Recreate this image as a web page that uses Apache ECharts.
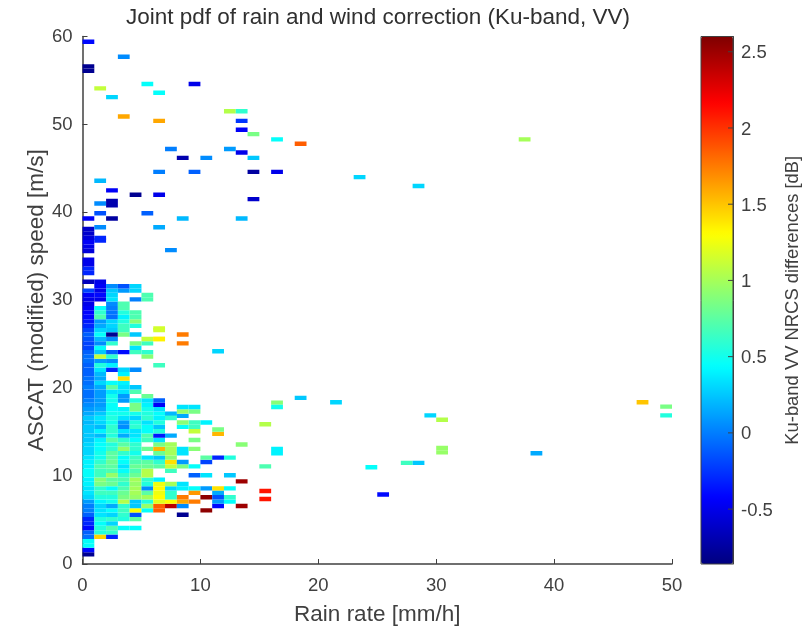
<!DOCTYPE html>
<html><head><meta charset="utf-8">
<style>html,body{margin:0;padding:0;background:#fff}#c{width:805px;height:629px}</style>
<script src="https://cdn.jsdelivr.net/npm/echarts@6/dist/echarts.min.js"></script>
</head><body><div id="c"></div>
<script>
// rain-rate bin starts are the array index; first wind row centre and row step in m/s
const denseWindStart = 1.1;
const denseWindStep = 0.5;
const rainBinWidth = 1;
const windBinHeight = 0.5;
const xTicks = [0,10,20,30,40,50];
const yTicks = [0,10,20,30,40,50,60];
const colorbarTicks = [-0.5,0,0.5,1,1.5,2,2.5];
const diffMin = -0.86, diffMax = 2.6;
const jetColors = ['#00007f','#0000ff','#007fff','#00ffff','#7fff7f','#ffff00','#ff7f00','#ff0000','#7f0000'];
// dense block: one list per wind row (bottom up), one value per rain bin
const denseRows = [
[-.8],[-.4],[.45],[.45],
[-.05,1.45,-.3],
[-.1,.55,.6],
[-.4,.55,.7,.45,.45],
[-.3,.45,.3],
[-.3,.55,.6,.55,.75],
[-.1,.35,.3,.6,-.15],
[0,.35,.45,.65,1.3,.45,1.85],
[0,.3,.15,.6,.25,.95,1.85],
[.1,.4,.5,1.05,.25,.55,1.2],
[.3,.55,.55,.85,.95,1,1.3],
[.35,.65,.65,.8,1,.75,1.25],
[.35,.6,.45,.7,1,.05,1.3],
[.4,.85,.8,.6,.95,.55,1.25],
[.4,.9,.75,.7,1,.6,.4],
[.45,.65,.95,.6,.8,1.05],
[.45,.65,.7,.45,.7,1.05],
[.4,.7,.75,.35,.8,.8,.75],
[.4,.6,.8,.45,.7,.75,.6],
[.35,.5,.75,.45,.65,.35,.25],
[.3,.5,.75,.6,.5,null,.8],
[.3,.45,.6,.95,.6,.8,1.55],
[.3,.45,.55,.75,.6,null,.85],
[.25,.4,.75,.6,.45,.65,.35],
[.25,.2,.55,.15,.35,.7,-.35],
[.25,.4,.6,.35,.35,.45,.55],
[.25,.2,.6,.05,.6,.45,.25],
[.2,.3,.5,.1,.55,.35,.55],
[.25,.35,.55,.35,.3,.6,.4],
[.15,.25,.5,.5,.5,.55,.45],
[.1,.15,.45,.4,.85,.5,.35],
[.05,.1,.45,null,.85,.4,-.45],
[0,.1,.5,.1,.55,.35,-.1],
[-.05,.1,.5,.1,null,.8],
[-.05,.1,.35,.35,.7],
[0,.15,.75,.35,.25],
[-.05,.3,.45,.4],
[-.05,.15,null,1.4],
[-.1,.2,null,.4],
[-.1,.35,-.3,.3,.05],
[-.1,.55,.4,null,null,null,.65],
[-.05,.1,.05],
[-.05,1.1,.6,null,null,.9],
[-.1,.25,-.1,-.4,.65,.6],
[-.2,.45,null,null,.35],
[-.2,.05,.6,null,.85,.65],
[-.15,.2,.05,null,null,1.1,1.3],
[-.1,.45,-.8,.85,.25],
[-.2,.3,.25,.65,null,null,1.15],
[-.3,.15,.3,.65,.55],
[-.35,.1,.3,.55,.9],
[-.4,.7,-.05,.4,.7],
[-.42,.6,-.03,.55,.7],
[-.45,.45,0,.7],
[-.5,null,.05,.7],
[-.5,-.5,.35,null,0,.7],
[-.45,-.4,.3,null,null,.7],
[-.2,-.5,.25,.1,.3],
[null,-.45,.05,-.15,.3],
[-.65,-.5],
[],
[-.3],[-.3],[-.5],[-.5],[],
[-.55],[-.5],[-.45],
[-.55,-.3],
[-.6],[-.6]
];
// isolated cells: [rain bin start, wind centre, difference]
const sparseCells = [
[8,5.6,-.8],[10,6.1,2.55],[7,6.6,2.4],[8,6.6,.05],[11,6.6,-.4],[13,6.6,2.5],
[7,7.1,1.3],[8,7.1,1.6],[9,7.1,1.75],[11,7.1,.1],[12,7.1,.45],[15,7.4,2.1],
[7,7.6,.6],[8,7.6,1.75],[10,7.6,2.55],[11,7.6,-.15],[12,7.6,.6],
[7,8.1,.6],[9,8.1,1.65],[11,8.1,.15],[15,8.3,2.1],
[7,8.6,.3],[8,8.6,.4],[9,8.6,.45],[10,8.6,.1],[11,8.6,1.4],[12,8.6,.45],
[7,9.1,1],[8,9.1,.35],[13,9.4,2.5],
[9,10.1,-.1],[10,10.1,.35],[12,10.1,.25],
[7,10.6,.65],[7,11.1,1.1],[8,11.1,.85],[9,11.1,.45],[15,11.1,.7],
[7,11.6,1.4],[8,11.6,.1],[10,11.6,-.2],
[7,12.1,.9],[10,12.1,.75],[11,12.1,-.3],[12,12.1,.55],
[7,12.6,1],[8,12.6,.35],[16,12.6,.4],
[7,13.1,1],[8,13.1,.35],[16,13.1,.4],[9,13.1,.9],
[13,13.6,.9],[7,13.6,1],[9,14.1,.85],
[7,14.6,.15],[11,14.8,1.55],[9,15.1,1.1],[11,15.3,.85],
[9,15.6,.65],[8,15.6,.45],[15,15.9,1.05],[9,16.1,.65],[10,16.1,.4],
[7,16.85,.65],[8,16.85,.15],[8,17.35,.95],[9,17.35,.85],[8,17.85,.35],[9,17.85,.35],
[16,18.35,.9],[16,17.85,.5],[18,18.9,.25],[21,18.4,.3],
[24,11,.45],[25,7.9,-.4],[27,11.5,.65],[28,11.5,.25],
[29,16.9,.3],[30,16.4,1.05],[30,12.7,.95],[30,13.2,.95],[38,12.6,.15],
[47,18.4,1.5],[49,17.9,.85],[49,16.9,.55],
[7,17.1,.2],[7,16.6,.6],[8,16.1,.9],[11,24.2,.3],
[8,25.1,1.75],[8,26.1,1.75],[6,26.8,1.15],[6,25.6,1.35],
[0,39.3,-.45],[1,39.9,-.15],[2,39.3,-.75],[5,39.9,-.1],[8,39.3,.2],[13,39.3,.2],
[1,38.3,.05],[6,38.3,.15],[7,35.7,.05],[1,36.8,-.3],
[1,41,.05],[2,40.8,-.7],[2,41.3,-.7],[4,42,-.8],[6,42,-.5],[2,42.5,-.45],[1,43.6,.2],[14,41.5,-.6],
[6,44.6,0],[9,44.6,-.1],[14,44.6,-.75],[16,44.6,-.5],[23,44,.3],[28,43,.3],
[8,46.2,-.7],[10,46.2,.05],[14,46.2,.25],[13,46.8,-.5],[7,47.2,0],[12,47.2,.1],
[18,47.8,1.85],[16,48.3,.45],[37,48.3,1],[14,48.9,.85],[13,49.4,-.45],[13,50.4,-.25],
[3,50.9,1.6],[6,50.4,1.6],[12,51.5,1.05],[13,51.5,.6],
[2,53.1,.3],[6,53.6,.45],[1,54.1,1.1],[5,54.6,.45],[9,54.6,-.5],
[0,56.1,-.8],[0,56.6,-.8],[3,57.7,.05],[0,59.4,-.4]
];

const cells = [];
denseRows.forEach((row,k)=>row.forEach((v,i)=>{
  if(v!==null) cells.push([i,denseWindStart+denseWindStep*k,v]);
}));
sparseCells.forEach(c=>cells.push(c));

const ink = '#404040';
const font = '"Liberation Sans", Arial, sans-serif';
const chart = echarts.init(document.getElementById('c'),null,{renderer:'canvas'});
chart.setOption({
  animation:false,
  backgroundColor:'#fff',
  title:{text:'Joint pdf of rain and wind correction (Ku-band, VV)',left:378,top:6,textAlign:'center',padding:0,
    textStyle:{color:'#303030',fontFamily:font,fontWeight:'normal',fontSize:22.5}},
  grid:[
    {left:82.5,top:36.5,width:589.5,height:527.5,containLabel:false,outerBoundsMode:'none'},
    {left:701,top:36.5,width:32,height:527.5,containLabel:false,outerBoundsMode:'none'}
  ],
  xAxis:[
    {gridIndex:0,type:'value',min:0,max:50,interval:10,name:'Rain rate [mm/h]',nameLocation:'middle',nameGap:39,nameMoveOverlap:false,
     nameTextStyle:{color:ink,fontFamily:font,fontSize:22.5},
     axisLine:{show:true,lineStyle:{color:ink,width:1.5}},
     axisTick:{show:true,inside:true,length:5,lineStyle:{color:ink}},
     axisLabel:{color:ink,fontFamily:font,fontSize:18.5,margin:12,formatter:v=>xTicks.includes(v)?String(v):''},
     splitLine:{show:false}},
    {gridIndex:1,type:'value',min:0,max:1,show:false}
  ],
  yAxis:[
    {gridIndex:0,type:'value',min:0,max:60,interval:10,name:'ASCAT (modified) speed [m/s]',nameLocation:'middle',nameGap:34.5,nameMoveOverlap:false,
     nameTextStyle:{color:ink,fontFamily:font,fontSize:22.5},
     axisLine:{show:true,lineStyle:{color:ink,width:1.5}},
     axisTick:{show:true,inside:true,length:5,lineStyle:{color:ink}},
     axisLabel:{color:ink,fontFamily:font,fontSize:18.5,margin:10,padding:[2,0,0,0],formatter:v=>yTicks.includes(v)?String(v):''},
     splitLine:{show:false}},
    {gridIndex:1,type:'value',position:'right',min:-1,max:3,scale:true,show:false},
    {gridIndex:1,type:'value',position:'right',min:diffMin,max:diffMax,interval:0.5,
     name:'Ku-band VV NRCS differences [dB]',nameLocation:'middle',nameGap:51,nameRotate:90,nameMoveOverlap:false,
     nameTextStyle:{color:ink,fontFamily:font,fontSize:18.4},
     z:10,
     axisLine:{show:true,onZero:false,lineStyle:{color:ink,width:1}},
     axisTick:{show:false},
     axisLabel:{show:false},
     splitLine:{show:false}}
  ],
  visualMap:{type:'continuous',seriesIndex:0,dimension:2,min:diffMin,max:diffMax,show:true,
    left:701,top:36.5,itemWidth:32,itemHeight:527.5,text:null,showLabel:false,calculable:false,hoverLink:false,
    padding:0,inRange:{color:jetColors},textStyle:{color:'rgba(0,0,0,0)',fontSize:1},z:1,
    borderWidth:0},
  series:[
    {type:'custom',xAxisIndex:0,yAxisIndex:0,coordinateSystem:'cartesian2d',clip:true,
     encode:{x:0,y:1},data:cells,
     renderItem:(p,api)=>{
       const x=api.value(0),y=api.value(1);
       const a=api.coord([x,y+windBinHeight/2]);
       const b=api.coord([x+rainBinWidth,y-windBinHeight/2]);
       return {type:'rect',shape:{x:a[0],y:a[1],width:b[0]-a[0],height:b[1]-a[1]},
         style:{fill:api.visual('color')}};
     }},
    {type:'custom',xAxisIndex:1,yAxisIndex:2,coordinateSystem:'cartesian2d',silent:true,z:5,
     data:colorbarTicks.map(v=>[v]),encode:{y:0},
     renderItem:(p,api)=>{
       const v=api.value(0);
       const c=api.coord([1,v]);
       return {type:'group',children:[
         {type:'line',shape:{x1:c[0]-5,y1:c[1],x2:c[0],y2:c[1]},style:{stroke:ink,lineWidth:1}},
         {type:'text',style:{x:c[0]+8,y:c[1]+1.5,text:String(v),fill:ink,font:'18.5px '+font,textAlign:'left',textVerticalAlign:'middle'}}
       ]};
     }}
  ],
  graphic:{elements:[{type:'rect',z:20,shape:{x:701,y:36.5,width:32,height:527.5},style:{fill:'none',stroke:ink,lineWidth:1}}]}
});
</script>
</body></html>
